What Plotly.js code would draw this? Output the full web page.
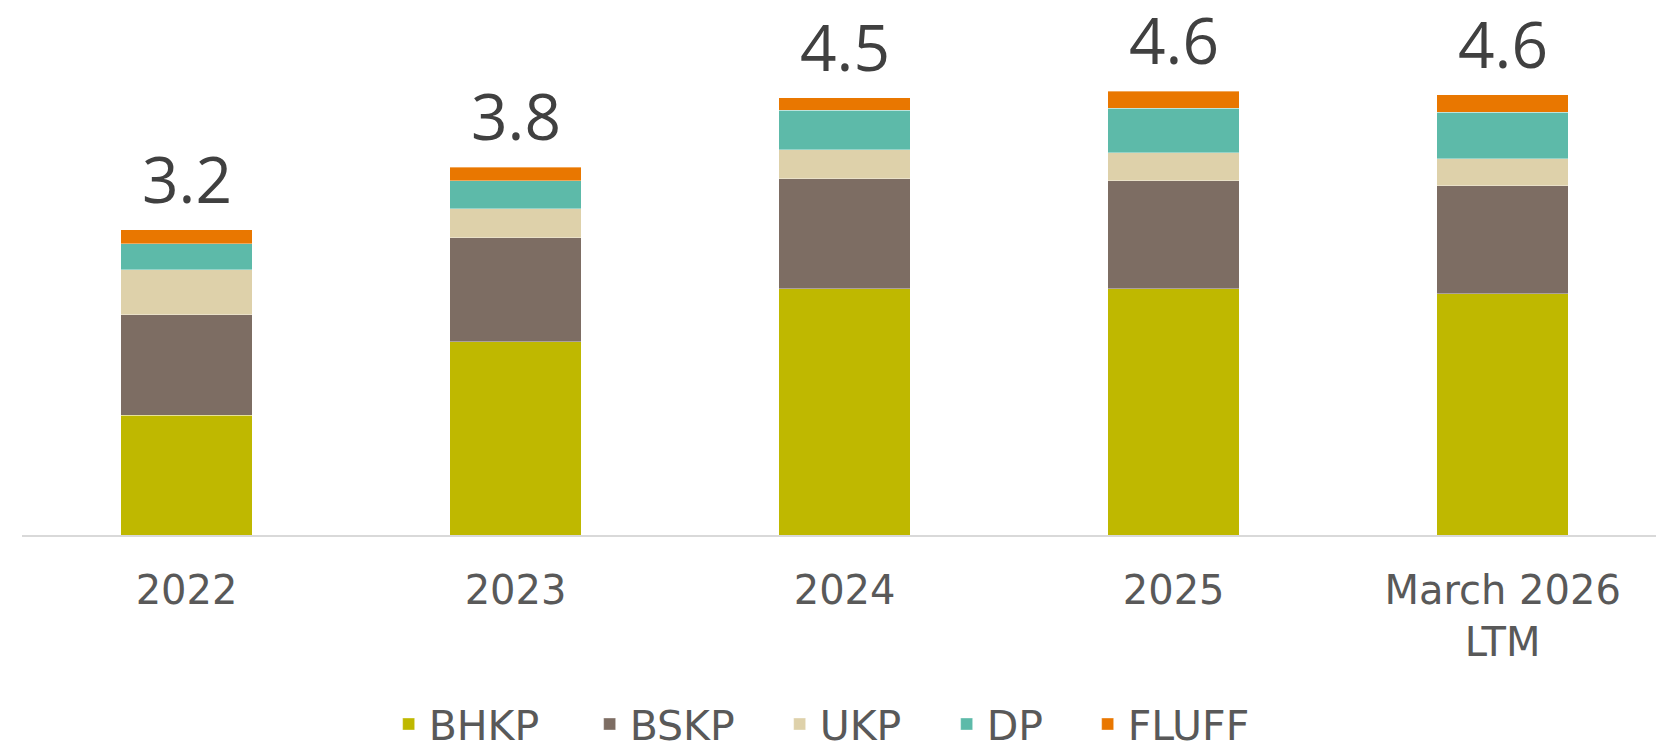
<!DOCTYPE html>
<html>
<head>
<meta charset="utf-8">
<script src="https://cdn.plot.ly/plotly-3.0.1.min.js"></script>
<style>html,body{margin:0;padding:0;background:#fff;}#chart{width:1656px;height:746px;}</style>
</head>
<body>
<div id="chart"></div>
<script>
const categories = ['2022', '2023', '2024', '2025', 'March 2026<br>LTM'];
const BHKP  = [1.24, 2.00, 2.55, 2.55, 2.50];
const BSKP  = [1.04, 1.08, 1.14, 1.12, 1.12];
const UKP   = [0.47, 0.30, 0.30, 0.29, 0.28];
const DP    = [0.27, 0.29, 0.41, 0.46, 0.48];
const FLUFF = [0.145, 0.14, 0.13, 0.18, 0.18];
const totalLabels = ['3.2', '3.8', '4.5', '4.6', '4.6'];

const seriesNames = ['BHKP', 'BSKP', 'UKP', 'DP', 'FLUFF'];
const seriesData = [BHKP, BSKP, UKP, DP, FLUFF];
const seriesColors = ['#BFB800', '#7D6D63', '#DED1AA', '#5DBAA9', '#E97700'];
const legendWidths = [156, 145, 122, 96, 138];

const traces = seriesNames.map((name, i) => ({
  type: 'bar',
  name: name,
  x: categories,
  y: seriesData[i],
  legendwidth: legendWidths[i],
  marker: { color: seriesColors[i], line: { width: 0.6, color: 'rgba(255,255,255,0.6)' } },
  hoverinfo: 'x+y+name'
}));

const totals = categories.map((_, j) => seriesData.reduce((s, arr) => s + arr[j], 0));

const annotations = categories.map((c, j) => ({
  x: j, y: totals[j], xref: 'x', yref: 'y',
  text: totalLabels[j],
  showarrow: false,
  yanchor: 'bottom',
  yshift: 6,
  font: { family: 'Open Sans, DejaVu Sans, sans-serif', size: 64, color: '#404040' }
}));

const layout = {
  width: 1656, height: 746,
  margin: { l: 22, r: 0, t: 10, b: 211 },
  paper_bgcolor: '#ffffff', plot_bgcolor: '#ffffff',
  barmode: 'stack',
  bargap: 0.6,
  showlegend: true,
  xaxis: {
    type: 'category',
    range: [-0.5, 4.466],
    showline: true, linecolor: '#d9d9d9', linewidth: 2,
    showgrid: false, zeroline: false, ticks: '',
    ticklabelstandoff: 19,
    tickfont: { family: 'DejaVu Sans, sans-serif', size: 40, color: '#595959' }
  },
  yaxis: {
    range: [0, 5.44], visible: false, showgrid: false, zeroline: false, fixedrange: true
  },
  legend: {
    orientation: 'h',
    xref: 'container', yref: 'container',
    x: 0.501, xanchor: 'center',
    y: 0.029, yanchor: 'middle',
    font: { family: 'DejaVu Sans, sans-serif', size: 41, color: '#595959' },
    traceorder: 'normal',
    itemclick: false
  },
  annotations: annotations
};

Plotly.newPlot('chart', traces, layout, { displayModeBar: false, staticPlot: true });
</script>
</body>
</html>
